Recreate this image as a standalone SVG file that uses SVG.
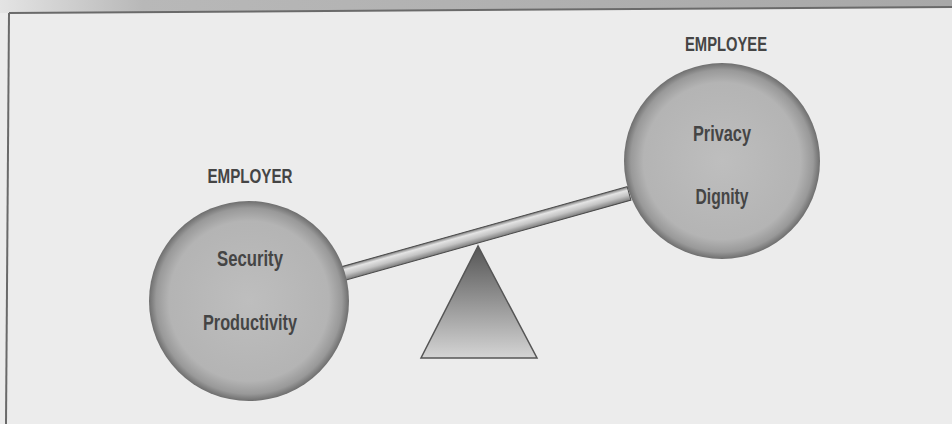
<svg xmlns="http://www.w3.org/2000/svg" width="952" height="424" viewBox="0 0 952 424">
<defs>
<linearGradient id="band" x1="0" y1="0" x2="1" y2="0">
<stop offset="0" stop-color="#e4e4e4"/><stop offset="0.15" stop-color="#b8b8b8"/><stop offset="1" stop-color="#a8a8a8"/>
</linearGradient>
<radialGradient id="ball" cx="0.5" cy="0.5" r="0.5">
<stop offset="0" stop-color="#bebebe"/><stop offset="0.8" stop-color="#b4b4b4"/><stop offset="0.93" stop-color="#999"/><stop offset="1" stop-color="#6e6e6e"/>
</radialGradient>
<linearGradient id="beam" x1="0" y1="0" x2="0" y2="1">
<stop offset="0" stop-color="#777"/><stop offset="0.25" stop-color="#e4e4e4"/><stop offset="0.6" stop-color="#c4c4c4"/><stop offset="1" stop-color="#7a7a7a"/>
</linearGradient>
<linearGradient id="tri" x1="0" y1="0" x2="0" y2="1">
<stop offset="0" stop-color="#555"/><stop offset="1" stop-color="#d4d4d4"/>
</linearGradient>
<style>
.lbl{font-family:"Liberation Sans",Arial,sans-serif;font-weight:bold;fill:#454545;text-anchor:middle}
.t{font-size:22px}
.h{font-size:21px}
</style>
</defs>
<rect width="952" height="424" fill="#ececec"/>
<polygon points="0,0 952,0 952,7 9,13 0,13" fill="url(#band)"/>
<g id="frame" fill="none" stroke="#6a6a6a" stroke-width="2">
<line x1="9" y1="13" x2="952" y2="7"/>
<line x1="9" y1="13" x2="6" y2="424"/>
</g>
<g id="connectors">
<g transform="rotate(-15.65 345 273)">
<rect x="340" y="266" width="300" height="14" fill="url(#beam)" stroke="#4a4a4a" stroke-width="1"/>
</g>
</g>
<g id="fulcrum">
<polygon points="478,246 421,358 537,358" fill="url(#tri)" stroke="#555" stroke-width="1.5"/>
</g>
<g id="employer">
<circle cx="249" cy="301" r="100" fill="url(#ball)"/>
<text class="lbl h" x="250" y="183" textLength="85" lengthAdjust="spacingAndGlyphs">EMPLOYER</text>
<text class="lbl t" x="250" y="266" textLength="66" lengthAdjust="spacingAndGlyphs">Security</text>
<text class="lbl t" x="250" y="330" textLength="94" lengthAdjust="spacingAndGlyphs">Productivity</text>
</g>
<g id="employee">
<circle cx="722" cy="161" r="98" fill="url(#ball)"/>
<text class="lbl h" x="726" y="51" textLength="82" lengthAdjust="spacingAndGlyphs">EMPLOYEE</text>
<text class="lbl t" x="722" y="141" textLength="58" lengthAdjust="spacingAndGlyphs">Privacy</text>
<text class="lbl t" x="722" y="204" textLength="53" lengthAdjust="spacingAndGlyphs">Dignity</text>
</g>
</svg>
